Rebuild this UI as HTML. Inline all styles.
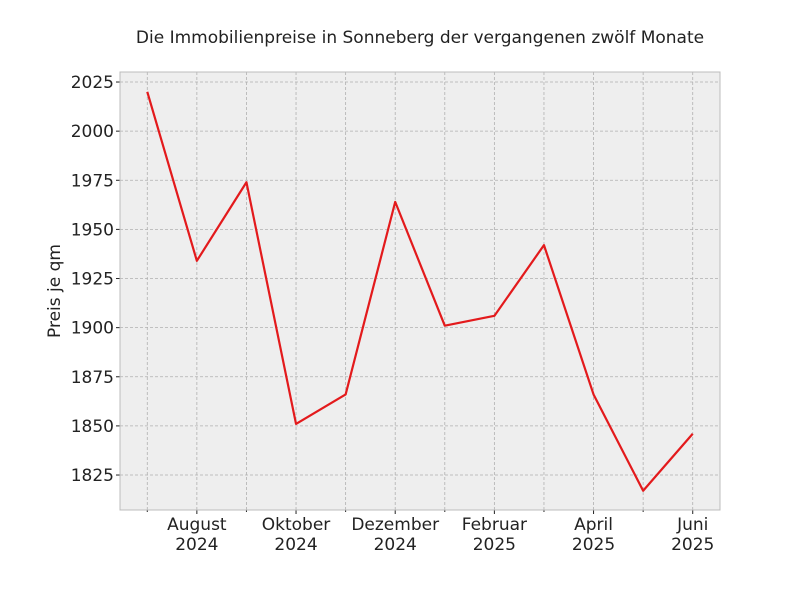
<!DOCTYPE html>
<html><head><meta charset="utf-8"><style>
body{margin:0;background:#fff;}
svg text{font-family:"DejaVu Sans","Liberation Sans",sans-serif;fill:#222;}
</style></head><body>
<svg id="chart" width="800" height="600" xmlns="http://www.w3.org/2000/svg">
<rect width="800" height="600" fill="#fff"/>
<text x="420" y="43" text-anchor="middle" font-size="17">Die Immobilienpreise in Sonneberg der vergangenen zwölf Monate</text>
<rect x="120" y="72" width="600" height="438" fill="#eeeeee"/>
<g id="grid"></g>
<g id="axes"></g>
<path id="line" fill="none" stroke="#e31a1c" stroke-width="2.2" stroke-linejoin="round"/>
<rect x="120" y="72" width="600" height="438" fill="none" stroke="#bcbcbc" stroke-width="1"/>
<text transform="translate(60,291) rotate(-90)" text-anchor="middle" font-size="17">Preis je qm</text>
</svg>
<script>
const months = ["Jul 2024","Aug 2024","Sep 2024","Okt 2024","Nov 2024","Dez 2024","Jan 2025","Feb 2025","Mär 2025","Apr 2025","Mai 2025","Jun 2025"];
const prices = [2020,1934,1974,1851,1866,1964,1901,1906,1942,1866,1817,1846];
const yTicks = [1825,1850,1875,1900,1925,1950,1975,2000,2025];
const xTickIdx = [1,3,5,7,9,11];
const xTickLabels = [["August","2024"],["Oktober","2024"],["Dezember","2024"],["Februar","2025"],["April","2025"],["Juni","2025"]];

const X0=120,X1=720,Y0=72,Y1=510;
const xMin=-0.55,xMax=prices.length-0.45,yMin=1807.2,yMax=2030.1;
const xs=i=>X0+(i-xMin)/(xMax-xMin)*(X1-X0);
const ys=v=>Y1-(v-yMin)/(yMax-yMin)*(Y1-Y0);
const NS="http://www.w3.org/2000/svg";
const grid=document.getElementById('grid'),axes=document.getElementById('axes');
function mk(tag,attrs,parent){const e=document.createElementNS(NS,tag);for(const k in attrs)e.setAttribute(k,attrs[k]);parent.appendChild(e);return e;}
yTicks.forEach(t=>{
  const y=ys(t);
  const g=mk('line',{x1:X0,x2:X1,y1:y,y2:y,stroke:'#b0b0b0','stroke-width':0.8,'stroke-dasharray':'3,2'},grid);
  
  
  const tk=mk('line',{x1:X0-4,x2:X0,y1:y,y2:y,stroke:'#222'},axes);
  
  
  const tx=mk('text',{x:X0-6,y:y+6,'text-anchor':'end','font-size':17},axes);
  tx.textContent=t;
  
  
});
months.forEach((m,i)=>{
  const x=xs(i);
  const g=mk('line',{x1:x,x2:x,y1:Y0,y2:Y1,stroke:'#b0b0b0','stroke-width':0.8,'stroke-dasharray':'3,2'},grid);
  
  
  const major=xTickIdx.includes(i);
  const tk=mk('line',{x1:x,x2:x,y1:Y1,y2:Y1+(major?4:2),stroke:'#222'},axes);
  
  
});
xTickIdx.forEach((idx,j)=>{
  const x=xs(idx);
  xTickLabels[j].forEach((s,k)=>{
    const tx=mk('text',{x:x,y:Y1+20+k*20,'text-anchor':'middle','font-size':17},axes);
    tx.textContent=s;
    
    
  });
});
document.getElementById('line').setAttribute('d',prices.map((v,i)=>(i?'L':'M')+xs(i)+','+ys(v)).join(' '));
</script>
</body></html>
